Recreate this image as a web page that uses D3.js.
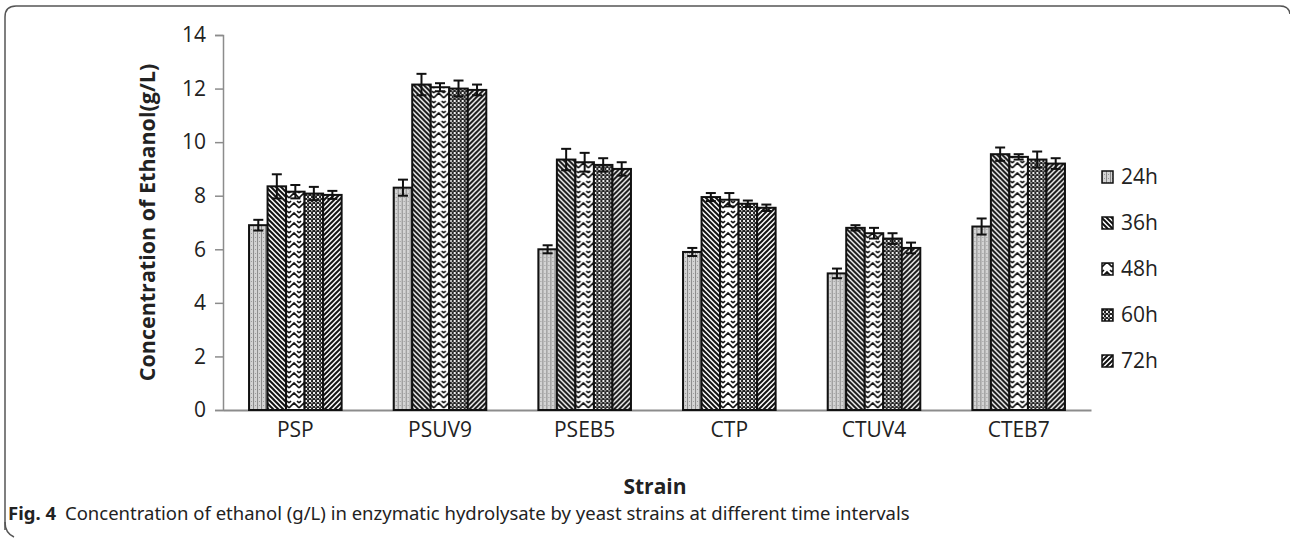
<!DOCTYPE html>
<html>
<head>
<meta charset="utf-8">
<script src="https://cdn.jsdelivr.net/npm/d3@7"></script>
<style>
  body { margin: 0; background: #fff; }
  svg { display: block; }
</style>
</head>
<body>
<svg id="chart" width="1290" height="539"></svg>
<script>
var strains = ["PSP", "PSUV9", "PSEB5", "CTP", "CTUV4", "CTEB7"];
var times = ["24h", "36h", "48h", "60h", "72h"];

// ethanol g/L per strain, one list per time point
var v24 = [6.9, 8.3, 6.0, 5.9, 5.1, 6.85];
var v36 = [8.35, 12.15, 9.35, 7.95, 6.8, 9.55];
var v48 = [8.15, 12.05, 9.25, 7.85, 6.6, 9.45];
var v60 = [8.08, 12.0, 9.15, 7.7, 6.4, 9.35];
var v72 = [8.03, 11.95, 9.0, 7.55, 6.05, 9.2];

// error bar half widths
var e24 = [0.2, 0.3, 0.15, 0.15, 0.18, 0.3];
var e36 = [0.45, 0.4, 0.4, 0.15, 0.1, 0.25];
var e48 = [0.25, 0.15, 0.35, 0.25, 0.2, 0.1];
var e60 = [0.25, 0.3, 0.25, 0.12, 0.2, 0.3];
var e72 = [0.15, 0.2, 0.25, 0.12, 0.2, 0.2];

var yTicks = [0, 2, 4, 6, 8, 10, 12, 14];

var values = [v24, v36, v48, v60, v72];
var errors = [e24, e36, e48, e60, e72];

var width = 1290, height = 539;
var margin = {left: 223, right: 199, top: 35, bottom: 129};

var svg = d3.select("#chart");
var defs = svg.append("defs");

// fill patterns, roughly like the excel ones
function pattern(id, size, bg) {
  var p = defs.append("pattern")
    .attr("id", id)
    .attr("patternUnits", "userSpaceOnUse")
    .attr("width", size)
    .attr("height", size);
  p.append("rect").attr("width", size).attr("height", size).attr("fill", bg);
  return p;
}

var p24 = pattern("p24", 4, "#d4d4d4");
p24.append("rect").attr("x", 0).attr("y", 0).attr("width", 1).attr("height", 4).attr("fill", "#8a8a8a");
p24.append("rect").attr("x", 2).attr("y", 1).attr("width", 1).attr("height", 1).attr("fill", "#9a9a9a");

var p36 = pattern("p36", 5, "#fff");
p36.append("path").attr("d", "M-1,-1 L6,6 M-1,4 L1,6 M4,-1 L6,1")
  .attr("stroke", "#111").attr("stroke-width", 2);

var p48 = pattern("p48", 10, "#fff");
p48.append("path").attr("d", "M0,8 L5,3 L10,8 M0,3 L2,1 M8,1 L10,3")
  .attr("stroke", "#111").attr("stroke-width", 1.6).attr("fill", "none");

var p60 = pattern("p60", 4, "#222");
p60.append("rect").attr("x", 0).attr("y", 0).attr("width", 2).attr("height", 2).attr("fill", "#f2f2f2");
p60.append("rect").attr("x", 2).attr("y", 2).attr("width", 1.5).attr("height", 1.5).attr("fill", "#bbb");

var p72 = pattern("p72", 5, "#fff");
p72.append("path").attr("d", "M-1,6 L6,-1 M-1,1 L1,-1 M4,6 L6,4")
  .attr("stroke", "#111").attr("stroke-width", 2);

var fills = ["url(#p24)", "url(#p36)", "url(#p48)", "url(#p60)", "url(#p72)"];

// frame round the figure (only top and left edges are shown)
svg.append("path")
  .attr("d", "M5,530 L5,17 Q5,6 16,6 L1280,6 Q1289,6 1290,14")
  .attr("fill", "none").attr("stroke", "#555").attr("stroke-width", 1.5);
svg.append("path")
  .attr("d", "M5,522 Q5,533 14,537")
  .attr("fill", "none").attr("stroke", "#555").attr("stroke-width", 1.5);

var x0 = d3.scaleBand()
  .domain(strains)
  .range([margin.left, width - margin.right])
  .paddingInner(0.36)
  .paddingOuter(0.18);

var x1 = d3.scaleBand()
  .domain(times)
  .range([0, x0.bandwidth()]);

var y = d3.scaleLinear()
  .domain([0, 14])
  .range([height - margin.bottom, margin.top]);

var font = "'Open Sans', 'Noto Sans', sans-serif";

// y axis
var yAxis = svg.append("g")
  .attr("transform", "translate(" + margin.left + ",0)")
  .call(d3.axisLeft(y).tickValues(yTicks).tickSize(8).tickPadding(9));
yAxis.select(".domain").attr("stroke", "#8c8c8c").attr("stroke-width", 1.5);
yAxis.selectAll(".tick line").attr("stroke", "#8c8c8c").attr("stroke-width", 1.5);
yAxis.selectAll(".tick text")
  .attr("font-family", font).attr("font-size", 21).attr("fill", "#222");

// x axis
var xAxis = svg.append("g")
  .attr("transform", "translate(0," + y(0) + ")")
  .call(d3.axisBottom(x0).tickSize(0).tickPadding(12).tickSizeOuter(0));
xAxis.select(".domain").attr("stroke", "#8c8c8c").attr("stroke-width", 2);
xAxis.selectAll(".tick text")
  .attr("font-family", font).attr("font-size", 21).attr("fill", "#222");

// bars
var groups = svg.append("g").selectAll("g")
  .data(strains)
  .enter()
  .append("g")
  .attr("transform", function(d) { return "translate(" + x0(d) + ",0)"; });

groups.selectAll("rect")
  .data(function(d, i) {
    return times.map(function(t, k) {
      return {time: t, k: k, v: values[k][i], e: errors[k][i]};
    });
  })
  .enter()
  .append("rect")
  .attr("x", function(d) { return x1(d.time); })
  .attr("y", function(d) { return y(d.v); })
  .attr("width", x1.bandwidth())
  .attr("height", function(d) { return y(0) - y(d.v); })
  .attr("fill", function(d) { return fills[d.k]; })
  .attr("stroke", "#111")
  .attr("stroke-width", 2);

// error bars
var errs = groups.selectAll("g.err")
  .data(function(d, i) {
    return times.map(function(t, k) {
      return {time: t, v: values[k][i], e: errors[k][i]};
    });
  })
  .enter()
  .append("g")
  .attr("class", "err")
  .attr("transform", function(d) { return "translate(" + (x1(d.time) + x1.bandwidth() / 2) + ",0)"; });

errs.append("line")
  .attr("y1", function(d) { return y(d.v + d.e); })
  .attr("y2", function(d) { return y(d.v - d.e); })
  .attr("stroke", "#111").attr("stroke-width", 2);
errs.append("line")
  .attr("x1", -5).attr("x2", 5)
  .attr("y1", function(d) { return y(d.v + d.e); })
  .attr("y2", function(d) { return y(d.v + d.e); })
  .attr("stroke", "#111").attr("stroke-width", 2);
errs.append("line")
  .attr("x1", -5).attr("x2", 5)
  .attr("y1", function(d) { return y(d.v - d.e); })
  .attr("y2", function(d) { return y(d.v - d.e); })
  .attr("stroke", "#111").attr("stroke-width", 2);

// legend
var legend = svg.append("g")
  .attr("transform", "translate(1102,177)")
  .selectAll("g")
  .data(times)
  .enter()
  .append("g")
  .attr("transform", function(d, i) { return "translate(0," + (i * 46) + ")"; });

legend.append("rect")
  .attr("x", 0).attr("y", -6)
  .attr("width", 11).attr("height", 12)
  .attr("fill", function(d, i) { return fills[i]; })
  .attr("stroke", "#111").attr("stroke-width", 1.5);

legend.append("text")
  .attr("x", 19).attr("y", 0)
  .attr("dy", "0.35em")
  .attr("font-family", font).attr("font-size", 21).attr("fill", "#222")
  .text(function(d) { return d; });

// axis titles
svg.append("text")
  .attr("transform", "translate(155," + y(7) + ") rotate(-90)")
  .attr("text-anchor", "middle")
  .attr("font-family", font).attr("font-size", 21.5).attr("font-weight", "bold").attr("fill", "#222")
  .text("Concentration of Ethanol(g/L)");

svg.append("text")
  .attr("x", 655).attr("y", 494)
  .attr("text-anchor", "middle")
  .attr("font-family", font).attr("font-size", 21).attr("font-weight", "bold").attr("fill", "#222")
  .text("Strain");

// caption
var cap = svg.append("text")
  .attr("x", 8).attr("y", 520)
  .attr("font-family", "'Noto Sans', sans-serif").attr("font-size", 18.5).attr("fill", "#222");
cap.append("tspan").attr("font-weight", "bold").text("Fig. 4");
cap.append("tspan").attr("dx", 9)
  .text("Concentration of ethanol (g/L) in enzymatic hydrolysate by yeast strains at different time intervals");
</script>
</body>
</html>
